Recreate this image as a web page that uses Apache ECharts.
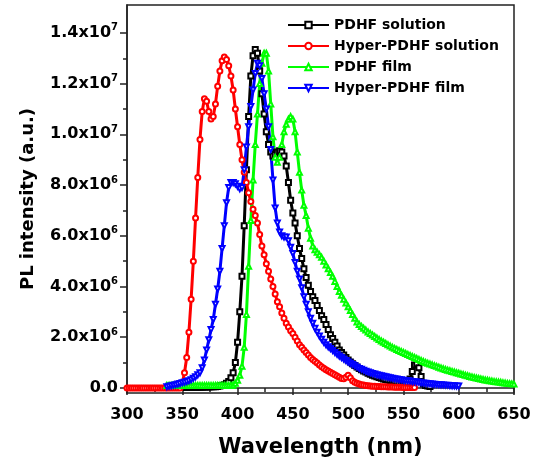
<!DOCTYPE html>
<html><head><meta charset="utf-8">
<script src="https://cdn.jsdelivr.net/npm/echarts@6/dist/echarts.min.js"></script>
<style>html,body{margin:0;padding:0;background:#fff}#c{width:539px;height:467px}</style>
</head><body><div id="c"></div>
<script>
// values in units of 10^6 (a.u.), sampled every 2 nm
var seriesNames = ['PDHF solution', 'Hyper-PDHF solution', 'PDHF film', 'Hyper-PDHF film'];
var pdhfSolStart = 340, hyperSolStart = 300, pdhfFilmStart = 336, hyperFilmStart = 336, stepNm = 2;

var pdhfSolution = [
0.03,0.03,0.03,0.03,0.03,0.03,0.03,0.03,0.03,0.03,
0.03,0.03,0.03,0.03,0.03,0.04,0.04,0.04,0.05,0.05,
0.05,0.06,0.08,0.1,0.13,0.18,0.25,0.4,0.6,1.0,
1.8,3.0,4.4,6.4,8.6,10.7,12.3,13.1,13.35,13.2,
12.5,11.6,10.8,10.1,9.6,9.3,9.15,9.2,9.3,9.35,
9.3,9.15,8.75,8.1,7.4,6.9,6.5,6.0,5.5,5.1,
4.7,4.35,4.05,3.8,3.6,3.45,3.25,3.05,2.85,2.7,
2.5,2.3,2.1,1.95,1.8,1.65,1.5,1.4,1.3,1.2,
1.1,1.02,0.95,0.88,0.83,0.77,0.72,0.67,0.63,0.58,
0.54,0.5,0.47,0.44,0.41,0.38,0.35,0.33,0.31,0.29,
0.27,0.25,0.23,0.21,0.2,0.19,0.18,0.2,0.35,0.65,
0.9,0.95,0.8,0.45,0.15,0.1,0.08,0.06];

var hyperSolution = [
0,0,0,0,0,0,0,0,0,0,
0,0,0,0,0,0,0,0,0,0,
0,0,0,0,0,0.2,0.6,1.2,2.2,3.5,
5.0,6.7,8.3,9.8,10.9,11.4,11.3,10.9,10.6,10.7,
11.2,11.9,12.5,12.9,13.05,12.95,12.7,12.3,11.75,11.0,
10.3,9.6,9.0,8.5,8.1,7.7,7.35,7.05,6.8,6.5,
6.05,5.6,5.25,4.9,4.6,4.3,4.0,3.7,3.4,3.2,
2.95,2.75,2.55,2.4,2.25,2.15,2.0,1.85,1.7,1.6,
1.5,1.4,1.3,1.2,1.12,1.05,0.98,0.9,0.84,0.78,
0.72,0.67,0.62,0.57,0.52,0.47,0.42,0.37,0.36,0.42,
0.5,0.4,0.28,0.22,0.18,0.15,0.13,0.12,0.1,0.09,
0.08,0.07,0.07,0.06,0.06,0.05,0.05,0.05,0.04,0.04,
0.04,0.03,0.03,0.03,0.03,0.02,0.02,0.02,0.02,0.02,
0.02];

var pdhfFilm = [
0.1,0.1,0.1,0.1,0.1,0.1,0.1,0.1,0.1,0.1,
0.1,0.1,0.1,0.1,0.1,0.1,0.1,0.1,0.1,0.1,
0.1,0.1,0.1,0.1,0.1,0.1,0.1,0.1,0.1,0.1,
0.12,0.18,0.3,0.5,0.85,1.6,2.9,4.8,6.6,8.2,
9.6,10.8,12.0,12.8,13.2,13.2,12.5,11.2,9.9,9.1,
8.9,9.1,9.6,10.1,10.4,10.6,10.7,10.6,10.1,9.3,
8.5,7.8,7.2,6.8,6.3,5.9,5.6,5.45,5.35,5.25,
5.15,5.0,4.85,4.7,4.55,4.4,4.2,4.0,3.8,3.65,
3.5,3.35,3.2,3.05,2.9,2.75,2.6,2.5,2.42,2.35,
2.28,2.21,2.15,2.09,2.03,1.97,1.91,1.85,1.8,1.75,
1.7,1.65,1.6,1.56,1.52,1.48,1.44,1.4,1.36,1.32,
1.28,1.24,1.2,1.16,1.12,1.08,1.04,1.0,0.97,0.94,
0.91,0.88,0.85,0.82,0.79,0.76,0.73,0.7,0.68,0.65,
0.63,0.6,0.58,0.55,0.53,0.5,0.48,0.45,0.43,0.41,
0.39,0.37,0.35,0.33,0.31,0.3,0.28,0.27,0.25,0.24,
0.23,0.22,0.2,0.19,0.18,0.17,0.16,0.15];

var hyperFilm = [
0.05,0.07,0.09,0.11,0.13,0.15,0.17,0.2,0.22,0.25,
0.28,0.32,0.38,0.44,0.52,0.6,0.8,1.1,1.5,1.9,
2.3,2.7,3.3,3.9,4.6,5.5,6.4,7.3,7.9,8.1,
8.1,8.05,7.95,7.85,7.9,8.6,9.5,10.3,11.1,11.75,
12.4,12.8,12.7,12.2,11.6,11.0,10.3,9.4,8.2,7.1,
6.5,6.15,6.0,5.95,5.95,5.8,5.55,5.3,4.95,4.6,
4.3,3.95,3.6,3.3,3.0,2.75,2.55,2.35,2.2,2.05,
1.92,1.8,1.7,1.62,1.55,1.48,1.4,1.33,1.26,1.2,
1.14,1.08,1.02,0.97,0.92,0.87,0.82,0.77,0.74,0.7,
0.66,0.63,0.6,0.57,0.55,0.52,0.5,0.48,0.46,0.44,
0.42,0.4,0.38,0.36,0.35,0.33,0.32,0.3,0.29,0.28,
0.27,0.25,0.24,0.23,0.22,0.2,0.19,0.18,0.17,0.16,
0.15,0.145,0.14,0.13,0.125,0.12,0.11,0.11,0.1,0.09,
0.09,0.08,0.08];

var yTickValues = [0, 2, 4, 6, 8, 10, 12, 14];
var yTickLabels = ['0.0', '2.0x10^6', '4.0x10^6', '6.0x10^6', '8.0x10^6', '1.0x10^7', '1.2x10^7', '1.4x10^7'];
var yMinorTickValues = [1, 3, 5, 7, 9, 11, 13];
var xTickLabels = ['300', '350', '400', '450', '500', '550', '600', '650'];

function pairs(start, vals) { return vals.map(function (v, i) { return [start + i * stepNm, v]; }); }

var FONT = 'DejaVu Sans';
var chart = echarts.init(document.getElementById('c'), null, { renderer: 'canvas' });

function mkSeries(name, start, vals, color, symbol, rot) {
  return {
    name: name, type: 'line', data: pairs(start, vals),
    symbol: symbol, symbolSize: 5, symbolRotate: rot || 0, showAllSymbol: true,
    lineStyle: { color: color, width: 3 },
    itemStyle: { color: color, borderColor: color, borderWidth: 1 },
    emphasis: { disabled: true }, animation: false, z: 2
  };
}

chart.setOption({
  animation: false,
  backgroundColor: '#fff',
  grid: { left: 127, right: 25, top: 5, bottom: 74, show: true, borderColor: '#222', borderWidth: 1.5, backgroundColor: 'transparent' },
  legend: {
    orient: 'vertical', left: 287, top: 18, padding: 0,
    itemWidth: 41, itemHeight: 8, itemGap: 7,
    textStyle: { fontFamily: FONT, fontWeight: 'bold', fontSize: 14, color: '#000' },
    data: seriesNames
  },
  xAxis: {
    type: 'value', min: 300, max: 650, interval: 50,
    name: 'Wavelength (nm)', nameLocation: 'middle', nameGap: 44,
    nameTextStyle: { fontFamily: FONT, fontWeight: 'bold', fontSize: 21, color: '#000' },
    axisLine: { lineStyle: { color: '#222', width: 1.5 } },
    axisTick: { length: 7, lineStyle: { color: '#222', width: 1.5 } },
    minorTick: { show: true, splitNumber: 2, length: 4, lineStyle: { color: '#222', width: 1.5 } },
    splitLine: { show: false },
    axisLabel: { margin: 14, fontFamily: FONT, fontWeight: 'bold', fontSize: 16, color: '#000',
      formatter: function (v) { var i = Math.round((v - 300) / 50); return xTickLabels[i] || ''; } }
  },
  yAxis: [{
    type: 'value', min: -0.2, max: 15.1,
    name: 'PL intensity (a.u.)', nameLocation: 'middle', nameGap: 90,
    nameTextStyle: { fontFamily: FONT, fontWeight: 'bold', fontSize: 18, color: '#000' },
    axisLine: { show: true, lineStyle: { color: '#222', width: 1.5 } },
    axisTick: { show: true, length: 7, customValues: yTickValues, lineStyle: { color: '#222', width: 1.5 } },
    splitLine: { show: false },
    axisLabel: {
      margin: 9, customValues: yTickValues, color: '#000',
      formatter: function (v) {
        var i = yTickValues.indexOf(Math.round(v));
        var s = yTickLabels[i] || '';
        var p = s.split('^');
        return p.length > 1 ? '{m|' + p[0] + '}{e|' + p[1] + '}' : '{m|' + s + '}';
      },
      rich: {
        m: { fontFamily: FONT, fontWeight: 'bold', fontSize: 16, color: '#000', lineHeight: 20 },
        e: { fontFamily: FONT, fontWeight: 'bold', fontSize: 10, color: '#000', verticalAlign: 'top', lineHeight: 20, padding: [0, 0, 8, 0] }
      }
    }
  }, {
    type: 'value', min: -0.2, max: 15.1, position: 'left',
    axisLine: { show: false },
    axisTick: { show: true, length: 4, customValues: yMinorTickValues, lineStyle: { color: '#222', width: 1.5 } },
    axisLabel: { show: false }, splitLine: { show: false }
  }],
  series: [
    mkSeries(seriesNames[0], pdhfSolStart, pdhfSolution, '#000000', 'emptyRect'),
    mkSeries(seriesNames[1], hyperSolStart, hyperSolution, '#ff0000', 'emptyCircle'),
    mkSeries(seriesNames[2], pdhfFilmStart, pdhfFilm, '#00ff00', 'emptyTriangle'),
    mkSeries(seriesNames[3], hyperFilmStart, hyperFilm, '#0000ff', 'emptyTriangle', 180)
  ]
});
</script></body></html>
